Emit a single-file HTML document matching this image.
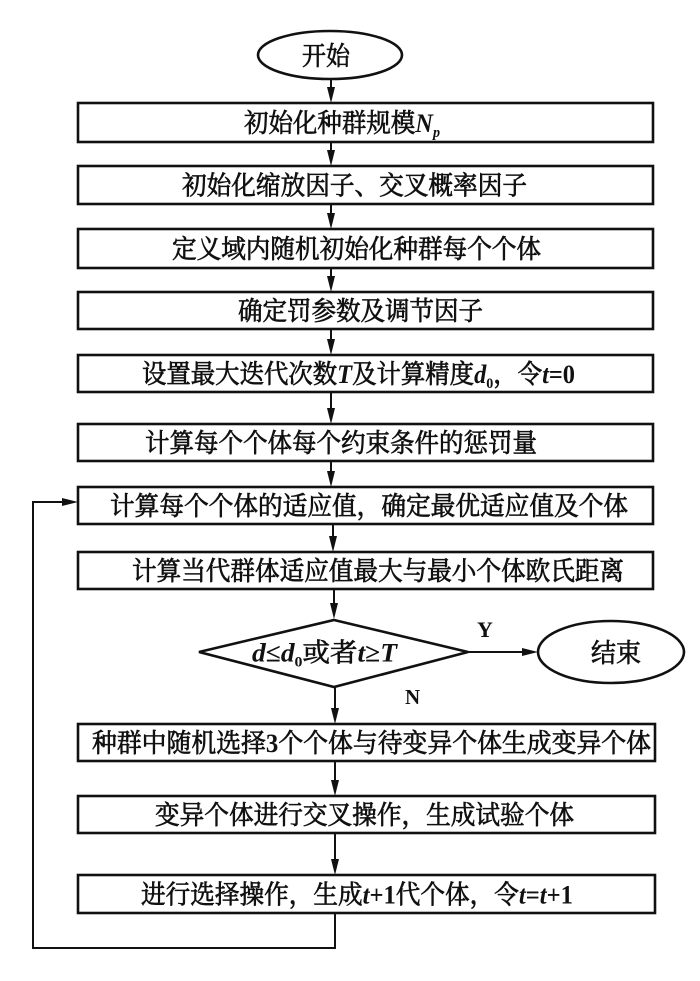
<!DOCTYPE html>
<html>
<head>
<meta charset="utf-8">
<style>
  html,body{margin:0;padding:0;background:#fff;}
  svg{display:block;}
  .t{font-family:"Noto Serif CJK SC","Liberation Serif",serif;font-size:26px;font-weight:normal;fill:#111;stroke:#111;stroke-width:0.7;}
  .i{font-style:italic;font-family:"Liberation Serif",serif;font-weight:bold;stroke-width:0;}
  .l{font-family:"Liberation Serif",serif;font-weight:bold;stroke-width:0;}
  .s{font-size:15px;font-family:"Liberation Serif",serif;font-weight:bold;stroke-width:0;}
  .box{fill:#fff;stroke:#111;stroke-width:2.6;}
  .ln{stroke:#111;stroke-width:2;fill:none;}
  .ah{fill:#111;}
</style>
</head>
<body>
<svg width="700" height="981" viewBox="0 0 700 981" xmlns="http://www.w3.org/2000/svg">
  <ellipse cx="330" cy="55" rx="72" ry="24" class="box"/>
  <text class="t" x="302" y="65" textLength="48" lengthAdjust="spacingAndGlyphs">开始</text>

  <line x1="331" y1="79" x2="331" y2="90" class="ln"/>
  <polygon points="327,87 335,87 331,103" class="ah"/>

  <rect x="78" y="103" width="575" height="39" class="box"/>
  <text class="t" x="244" y="132" textLength="196" lengthAdjust="spacingAndGlyphs">初始化种群规模<tspan class="i">N</tspan><tspan class="i s" dy="5">p</tspan></text>
  <line x1="331" y1="142" x2="331" y2="154" class="ln"/>
  <polygon points="327,150 335,150 331,166" class="ah"/>

  <rect x="78" y="166" width="575" height="38" class="box"/>
  <text class="t" x="182" y="194.5" textLength="345" lengthAdjust="spacingAndGlyphs">初始化缩放因子、交叉概率因子</text>
  <line x1="331" y1="204" x2="331" y2="217" class="ln"/>
  <polygon points="327,213 335,213 331,229" class="ah"/>

  <rect x="78" y="229" width="575" height="39" class="box"/>
  <text class="t" x="172" y="258" textLength="369" lengthAdjust="spacingAndGlyphs">定义域内随机初始化种群每个个体</text>
  <line x1="331" y1="268" x2="331" y2="280" class="ln"/>
  <polygon points="327,276 335,276 331,292" class="ah"/>

  <rect x="78" y="292" width="575" height="37" class="box"/>
  <text class="t" x="238" y="320" textLength="245" lengthAdjust="spacingAndGlyphs">确定罚参数及调节因子</text>
  <line x1="331" y1="329" x2="331" y2="343" class="ln"/>
  <polygon points="327,339 335,339 331,355" class="ah"/>

  <rect x="78" y="355" width="575" height="37" class="box"/>
  <text class="t" x="142" y="383" textLength="433" lengthAdjust="spacingAndGlyphs">设置最大迭代次数<tspan class="i">T</tspan>及计算精度<tspan class="i">d</tspan><tspan class="s" dy="5">0</tspan><tspan dy="-5">，令</tspan><tspan class="i">t</tspan><tspan class="l">=0</tspan></text>
  <line x1="331" y1="392" x2="331" y2="412" class="ln"/>
  <polygon points="327,408 335,408 331,424" class="ah"/>

  <rect x="78" y="424" width="575" height="37" class="box"/>
  <text class="t" x="145" y="452" textLength="392" lengthAdjust="spacingAndGlyphs">计算每个个体每个约束条件的惩罚量</text>
  <line x1="331" y1="461" x2="331" y2="475" class="ln"/>
  <polygon points="327,471 335,471 331,487" class="ah"/>

  <rect x="78" y="487" width="575" height="37" class="box"/>
  <text class="t" x="110" y="515" textLength="518" lengthAdjust="spacingAndGlyphs">计算每个个体的适应值，确定最优适应值及个体</text>
  <line x1="333" y1="524" x2="333" y2="540" class="ln"/>
  <polygon points="329,536 337,536 333,552" class="ah"/>

  <rect x="78" y="552" width="575" height="37" class="box"/>
  <text class="t" x="132" y="580" textLength="492" lengthAdjust="spacingAndGlyphs">计算当代群体适应值最大与最小个体欧氏距离</text>
  <line x1="334" y1="589" x2="334" y2="607" class="ln"/>
  <polygon points="330,603 338,603 334,619" class="ah"/>

  <polygon points="334,620 468,652 334,687 199,652" class="box"/>
  <text class="t" x="252" y="661.5" textLength="145" lengthAdjust="spacingAndGlyphs"><tspan class="i">d</tspan><tspan class="l" font-family="DejaVu Serif" font-weight="normal">≤</tspan><tspan class="i">d</tspan><tspan class="s" dy="5">0</tspan><tspan dy="-5">或者</tspan><tspan class="i">t</tspan><tspan class="l" font-family="DejaVu Serif" font-weight="normal">≥</tspan><tspan class="i">T</tspan></text>

  <line x1="468" y1="652" x2="524" y2="652" class="ln"/>
  <polygon points="522,648 522,656 538,652" class="ah"/>
  <text x="477" y="637" style="font-family:'Liberation Serif',serif;font-size:22px;font-weight:bold;fill:#111;">Y</text>

  <ellipse cx="611" cy="652" rx="73" ry="31" class="box"/>
  <text class="t" x="591" y="662" textLength="50" lengthAdjust="spacingAndGlyphs">结束</text>

  <text x="405" y="704" style="font-family:'Liberation Serif',serif;font-size:21px;font-weight:bold;fill:#111;">N</text>
  <line x1="335" y1="687" x2="335" y2="712" class="ln"/>
  <polygon points="331,708 339,708 335,724" class="ah"/>

  <rect x="78" y="724" width="577" height="37" class="box"/>
  <text class="t" x="92" y="752" textLength="559" lengthAdjust="spacingAndGlyphs">种群中随机选择<tspan class="l">3</tspan>个个体与待变异个体生成变异个体</text>
  <line x1="335" y1="761" x2="335" y2="784" class="ln"/>
  <polygon points="331,780 339,780 335,796" class="ah"/>

  <rect x="78" y="796" width="577" height="37" class="box"/>
  <text class="t" x="155" y="824" textLength="419" lengthAdjust="spacingAndGlyphs">变异个体进行交叉操作，生成试验个体</text>
  <line x1="335" y1="833" x2="335" y2="863" class="ln"/>
  <polygon points="331,859 339,859 335,875" class="ah"/>

  <rect x="78" y="875" width="577" height="38" class="box"/>
  <text class="t" x="141" y="903.5" textLength="432" lengthAdjust="spacingAndGlyphs">进行选择操作，生成<tspan class="i">t</tspan><tspan class="l">+1</tspan>代个体，令<tspan class="i">t</tspan><tspan class="l">=</tspan><tspan class="i">t</tspan><tspan class="l">+1</tspan></text>

  <polyline points="335,913 335,948 33,948 33,502 64,502" class="ln"/>
  <polygon points="62,498 62,506 78,502" class="ah"/>
</svg>
</body>
</html>
